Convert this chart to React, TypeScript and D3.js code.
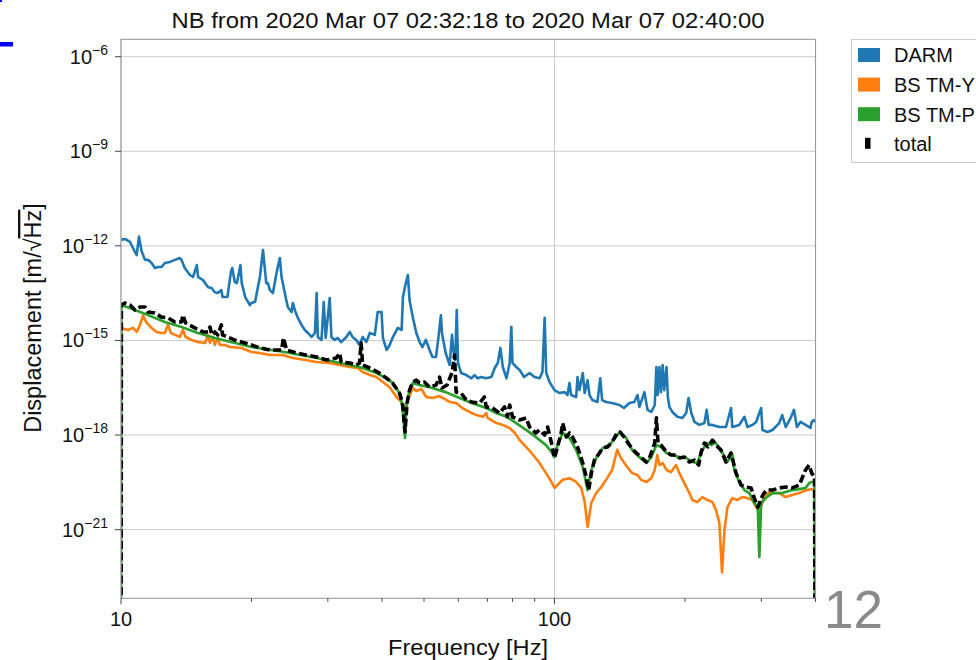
import React from 'react';
import * as d3 from 'd3';

type Pt = [number, number];

const titleText = 'NB from 2020 Mar 07 02:32:18 to 2020 Mar 07 02:40:00';
const xLabelText = 'Frequency [Hz]';
const seriesNames = ['DARM', 'BS TM-Y', 'BS TM-P', 'total'];
const seriesColors = ['#1f77b4', '#ff7f0e', '#2ca02c', '#000000'];
const xMajorTicks = [10, 100];
const xMinorTicks = [20, 30, 40, 50, 60, 70, 80, 90, 200, 300, 400];
const yMajorTicks = [1e-6, 1e-9, 1e-12, 1e-15, 1e-18, 1e-21];
const xDomain: [number, number] = [10, 400];
const yDomain: [number, number] = [6.65e-24, 3.56e-6];

const darm: Pt[] = [[10.0,1.54e-12],[10.21,1.66e-12],[10.49,1.33e-12],[10.77,6.4e-13],[10.87,5.1e-13],[11.0,1.96e-12],[11.16,6.6e-13],[11.36,3.6e-13],[11.54,3.6e-13],[11.77,2.86e-13],[11.97,1.98e-13],[12.17,2.14e-13],[12.41,2.14e-13],[12.62,2.86e-13],[12.97,3.1e-13],[13.32,3.6e-13],[13.67,4.1e-13],[13.79,3.6e-13],[14.03,1.98e-13],[14.42,1.19e-13],[14.66,1.03e-13],[14.96,2.47e-13],[15.06,1.03e-13],[15.46,8.2e-14],[15.88,4.9e-14],[16.18,4.6e-14],[16.46,3.4e-14],[16.72,3.2e-14],[17.04,3.95e-14],[17.15,2.38e-14],[17.6,2.38e-14],[17.93,1.49e-13],[18.05,1.98e-13],[18.3,7.1e-14],[18.51,6.6e-14],[18.86,2.47e-13],[18.99,6.6e-14],[19.34,2.38e-14],[19.83,1.33e-14],[19.99,1.54e-14],[20.39,1.69e-14],[20.91,1.05e-13],[21.26,7.4e-13],[21.63,6.6e-14],[21.82,6.6e-14],[22.05,3.95e-14],[22.41,3.2e-14],[22.84,1.38e-13],[23.25,4.1e-13],[23.46,1.03e-13],[23.87,3.2e-14],[24.25,1.15e-14],[24.74,8.0e-15],[24.91,1.54e-14],[25.17,9.3e-15],[25.58,5.2e-15],[26.09,3.1e-15],[26.56,2.15e-15],[26.98,1.73e-15],[27.52,1.29e-15],[28.01,1.73e-15],[28.27,3.2e-14],[28.45,1.29e-15],[29.01,1.04e-15],[29.35,1.66e-14],[29.66,1.2e-15],[30.3,2.2e-14],[30.57,1.29e-15],[31.1,1.04e-15],[31.6,1.2e-15],[32.2,8.9e-16],[33.1,1.29e-15],[33.7,1.86e-15],[34.2,1.29e-15],[34.9,1.04e-15],[35.5,7.2e-16],[36.1,1.29e-15],[36.8,8.9e-16],[37.5,1.73e-15],[38.5,1.5e-15],[39.1,8.0e-15],[39.9,8.0e-15],[40.2,1.2e-15],[41.0,4.98e-16],[41.66,7.2e-16],[42.3,1.2e-15],[43.5,2.5e-15],[44.4,2.15e-15],[44.7,2.38e-14],[45.4,6.6e-14],[45.9,1.19e-13],[46.3,1.91e-14],[47.1,5.5e-15],[48.0,1.73e-15],[48.85,8.9e-16],[49.6,6.2e-16],[50.5,1.04e-15],[51.5,4.98e-16],[52.3,3.0e-16],[53.3,3.0e-16],[53.9,1.04e-15],[54.7,6.3e-15],[55.0,1.73e-15],[56.1,4.0e-16],[57.3,1.67e-16],[58.0,1.5e-15],[58.4,4.98e-16],[59.0,2.4e-16],[59.5,9.3e-15],[59.9,1.93e-16],[60.9,9.3e-17],[62.6,8.0e-17],[64.3,6.3e-17],[65.4,8.0e-17],[66.5,6.3e-17],[67.8,6.9e-17],[69.6,6.3e-17],[71.5,6.9e-17],[72.8,1.34e-16],[74.0,1.93e-16],[75.0,5.8e-16],[76.0,1.44e-16],[77.5,6.3e-17],[78.8,1.93e-16],[79.5,2.7e-15],[80.0,1.93e-16],[81.6,1.44e-16],[83.1,1.16e-16],[85.1,6.9e-17],[87.6,9.3e-17],[89.9,6.9e-17],[92.4,6.3e-17],[93.8,1.0e-16],[94.9,5.2e-15],[95.7,9.3e-17],[97.4,4.8e-17],[100,2.67e-17],[102.7,2.15e-17],[105.5,2.3e-17],[107.1,1.86e-17],[108.3,4.5e-17],[109.2,1.86e-17],[112.2,1.61e-17],[113.0,6.9e-17],[114.2,2.67e-17],[116.2,9.3e-17],[117.4,2.15e-17],[119.2,5.5e-17],[120.4,1.86e-17],[122.3,1.29e-17],[125.6,1.12e-17],[127.5,6.3e-17],[128.8,1.29e-17],[131.5,1.12e-17],[135.8,1.04e-17],[141.2,9.0e-18],[144.6,7.2e-18],[148.9,1.04e-17],[152.8,1.12e-17],[155.4,1.86e-17],[157.0,7.8e-18],[161.2,2.3e-17],[163.9,6.3e-18],[167.2,5.4e-18],[170.3,9.0e-18],[171.8,1.44e-16],[173.0,1.86e-17],[174.6,1.44e-16],[176.0,2.3e-17],[177.6,1.67e-16],[179.1,2.67e-17],[181.3,1.44e-16],[182.6,1.61e-17],[184.1,7.8e-18],[187.0,5.4e-18],[192.1,3.8e-18],[197.3,3.5e-18],[201.3,5.0e-18],[203.8,1.5e-17],[206.8,5.0e-18],[210.4,2.6e-18],[215.9,2.1e-18],[221.7,2.4e-18],[224.4,6.3e-18],[226.8,2.1e-18],[231.2,2.1e-18],[240,1.8e-18],[248.6,1.8e-18],[255.4,7.2e-18],[257.1,1.8e-18],[266.9,2.1e-18],[274.3,3.8e-18],[278.7,1.8e-18],[286.2,2.1e-18],[291.8,2.6e-18],[299.7,7.2e-18],[301.8,1.45e-18],[310.0,1.25e-18],[318.3,1.45e-18],[329.9,2.4e-18],[335.1,4.3e-18],[341.6,1.8e-18],[350.6,3.5e-18],[356.8,6.3e-18],[362.4,1.8e-18],[369.4,2.6e-18],[379.3,2.1e-18],[389.4,1.68e-18],[392.0,2.6e-18],[396.5,3.0e-18],[400,2.6e-18]];

const bsTmY: Pt[] = [[10.0,2.5e-15],[10.38,2.15e-15],[10.66,2.5e-15],[10.87,1.86e-15],[11.06,3.1e-15],[11.24,6.1e-15],[11.46,3.6e-15],[11.77,2.5e-15],[12.08,1.86e-15],[12.41,1.73e-15],[12.62,1.73e-15],[12.83,3.1e-15],[13.04,1.73e-15],[13.32,1.5e-15],[13.67,1.29e-15],[13.89,2.15e-15],[14.09,1.29e-15],[14.55,1.04e-15],[15.05,8.9e-16],[15.62,8.3e-16],[15.88,1.5e-15],[16.04,8.3e-16],[16.3,1.29e-15],[16.46,7.2e-16],[16.72,1.2e-15],[16.91,7.2e-16],[17.36,7.2e-16],[17.83,6.2e-16],[18.97,5.8e-16],[20.0,4.3e-16],[20.91,4.0e-16],[22.05,3.46e-16],[23.6,3.46e-16],[24.9,2.78e-16],[26.7,2.4e-16],[28.2,2.08e-16],[30.3,1.93e-16],[31.96,1.67e-16],[33.7,1.44e-16],[35.2,1.34e-16],[36.1,1.0e-16],[37.5,8.0e-17],[38.8,6.9e-17],[40.2,4.8e-17],[41.66,3.3e-17],[43.2,1.61e-17],[44.4,1.12e-17],[45.2,6.2e-18],[45.9,1.29e-17],[47.1,3.1e-17],[48.0,2.5e-17],[49.3,2.9e-17],[50.6,1.61e-17],[52.3,1.5e-17],[54.3,1.73e-17],[57.3,1.12e-17],[59.3,1.04e-17],[61.3,7.2e-18],[63.7,5.4e-18],[66.0,4.3e-18],[68.4,3.8e-18],[69.6,5.0e-18],[70.1,3.5e-18],[73.4,2.4e-18],[76.0,2.1e-18],[78.8,1.68e-18],[81.0,1.16e-18],[83.1,6.9e-19],[86.0,4.2e-19],[89.3,2.33e-19],[92.35,1.3e-19],[95.6,6.2e-20],[98.4,3.25e-20],[100,2.1e-20],[101.6,2.6e-20],[104.4,3.8e-20],[108.3,4.3e-20],[112.2,3.25e-20],[115.3,2.1e-20],[117.4,7.5e-21],[119.2,1.22e-21],[121.6,7.0e-21],[124.8,1.45e-20],[128.2,2.25e-20],[131.5,3.8e-20],[135.8,7.8e-20],[139.5,3.4e-19],[142.1,1.93e-19],[147.1,9.7e-20],[151.1,6.2e-20],[155.4,5.4e-20],[158.4,3.8e-20],[162.9,3.25e-20],[167.2,4.3e-20],[170.3,7.8e-20],[172.6,2.33e-19],[174.6,1.12e-19],[177.6,1.3e-19],[181.3,7.8e-20],[185.7,6.7e-20],[190.7,1.12e-19],[194.1,6.2e-20],[199.3,3.0e-20],[204.7,1.45e-20],[208.0,8.7e-21],[213.5,7.5e-21],[219.3,1.08e-20],[225.2,8.7e-21],[231.2,7.5e-21],[235.8,4.2e-21],[240,1.68e-21],[243.5,4.4e-23],[246.6,9.4e-22],[250.6,5.2e-21],[257.1,1.0e-20],[264.1,8.7e-21],[270.9,1.08e-20],[278.7,1.0e-20],[286.2,8.7e-21],[291.8,5.2e-21],[296.8,3.6e-21],[305.2,1.25e-20],[312.9,1.45e-20],[329.9,1.45e-20],[341.6,1.08e-20],[353.4,1.25e-20],[366.9,1.45e-20],[381.8,1.8e-20],[394.9,1.94e-20],[400,1.94e-20]];

const bsTmP: Pt[] = [[10,1e-30],[10.02,1.33e-14],[10.77,9.3e-15],[11.54,6.4e-15],[12.62,3.85e-15],[13.79,2.67e-15],[15.05,1.73e-15],[16.46,1.2e-15],[17.93,8.9e-16],[20.0,6.2e-16],[23.6,4.4e-16],[28.3,2.78e-16],[33.7,1.67e-16],[36.1,1.34e-16],[38.8,9.3e-17],[41.0,6.3e-17],[42.3,4.5e-17],[43.9,2.15e-17],[44.6,7.8e-18],[45.2,8.1e-19],[45.5,7.8e-18],[46.3,2.67e-17],[47.1,4.5e-17],[48.85,3.85e-17],[51.5,3.3e-17],[56.1,2.3e-17],[60.4,1.5e-17],[64.4,1.04e-17],[69.6,7.2e-18],[73.4,5.0e-18],[77.5,3.8e-18],[81.6,2.4e-18],[86.0,1.45e-18],[90.5,8.7e-19],[95.6,4.8e-19],[98.4,2.9e-19],[100,2.0e-19],[101.6,4.8e-19],[104.4,1.16e-18],[106.5,1.0e-18],[108.3,8.1e-19],[112.2,3.35e-19],[116.2,9.7e-20],[119.2,1.8e-20],[121.6,7.8e-20],[124.8,1.87e-19],[129.1,3.85e-19],[133.9,4.8e-19],[138.6,8.7e-19],[141.2,1.25e-18],[146.4,8.1e-19],[151.1,3.35e-19],[157.0,2.0e-19],[162.9,1.3e-19],[167.2,2.0e-19],[171.8,4.8e-19],[176.1,4.2e-19],[181.3,2.7e-19],[187.0,2.33e-19],[194.1,2.0e-19],[201.3,1.87e-19],[208.0,1.4e-19],[213.5,1.3e-19],[217.9,2.7e-19],[224.1,5.6e-19],[230.3,4.8e-19],[234.5,6.0e-19],[238.9,4.2e-19],[245.6,2.33e-19],[250.3,1.4e-19],[257.4,2.33e-19],[260,7.8e-20],[266.9,3.25e-20],[274.3,1.8e-20],[281.4,1.45e-20],[289.0,7.0e-21],[294.4,5.2e-21],[296.8,1.36e-22],[299.7,7.0e-21],[308.6,1.08e-20],[318.3,1.45e-20],[335.1,1.45e-20],[353.4,1.8e-20],[366.9,1.94e-20],[379.3,2.1e-20],[386.9,3.0e-20],[392.0,3.25e-20],[398,3.25e-20],[400,1e-30]];

const total: Pt[] = [[10,1e-30],[10.02,1.33e-14],[10.21,1.54e-14],[10.49,1.33e-14],[10.77,9.3e-15],[11.06,1.15e-14],[11.36,1.15e-14],[11.54,8.0e-15],[11.97,7.4e-15],[12.41,5.5e-15],[12.83,5.2e-15],[13.32,3.85e-15],[13.79,3.85e-15],[13.89,6.4e-15],[14.09,3.6e-15],[14.8,2.5e-15],[15.46,1.86e-15],[15.88,1.86e-15],[16.04,2.67e-15],[16.2,1.5e-15],[16.46,1.86e-15],[16.72,1.5e-15],[17.04,3.1e-15],[17.15,1.5e-15],[17.6,1.29e-15],[18.25,1.04e-15],[19.3,8.3e-16],[20.0,7.2e-16],[20.91,5.8e-16],[22.05,4.98e-16],[23.46,4.98e-16],[23.7,1.2e-15],[24.1,4.98e-16],[25.4,4.0e-16],[26.7,3.46e-16],[28.27,3.0e-16],[29.8,2.4e-16],[31.4,2.78e-16],[31.96,4.0e-16],[32.2,2.08e-16],[33.7,1.93e-16],[34.9,1.67e-16],[35.5,1.93e-16],[35.8,8.3e-16],[36.1,1.67e-16],[37.5,1.34e-16],[39.1,1.0e-16],[41.0,6.3e-17],[42.3,4.5e-17],[43.9,2.15e-17],[44.6,1.04e-17],[45.2,1.25e-18],[45.7,1.04e-17],[46.3,2.67e-17],[47.1,4.8e-17],[48.0,5.5e-17],[48.85,4.5e-17],[50.1,4.8e-17],[51.5,3.3e-17],[53.3,3.85e-17],[54.3,6.9e-17],[55.0,3.1e-17],[56.5,3.85e-17],[58.1,1.0e-16],[58.8,3.46e-16],[59.3,2.3e-17],[60.9,2.15e-17],[62.6,1.29e-17],[64.4,1.12e-17],[67.2,1.04e-17],[68.9,1.61e-17],[69.6,7.8e-18],[71.9,7.2e-18],[74.7,5.0e-18],[76.7,7.8e-18],[77.9,3.8e-18],[78.8,9.0e-18],[80.0,3.8e-18],[83.1,3.0e-18],[86.0,3.5e-18],[87.6,1.8e-18],[90.5,1.16e-18],[92.35,1.45e-18],[94.9,1.0e-18],[96.4,1.8e-18],[98.4,5.6e-19],[100,1.87e-19],[101.6,4.2e-19],[103.6,1.16e-18],[104.4,2.4e-18],[106.5,8.7e-19],[108.3,1.16e-18],[110.0,8.7e-19],[113.0,4.2e-19],[116.2,1.3e-19],[118.4,4.66e-20],[119.9,1.8e-20],[121.6,6.2e-20],[123.6,1.61e-19],[127.0,2.7e-19],[129.1,3.85e-19],[132.5,4.2e-19],[135.8,6.0e-19],[139.5,1.16e-18],[141.7,1.25e-18],[144.6,8.7e-19],[148.9,4.8e-19],[154.3,2.7e-19],[158.4,2.0e-19],[162.9,1.4e-19],[165.6,1.87e-19],[170.3,5.6e-19],[171.8,3.5e-18],[173.3,5.6e-19],[176.1,4.8e-19],[181.3,2.9e-19],[185.7,2.33e-19],[190.7,2.33e-19],[194.1,1.87e-19],[199.3,2.0e-19],[204.7,1.4e-19],[210.4,1.61e-19],[215.1,1.12e-19],[217.9,2.9e-19],[221.7,5.6e-19],[225.7,4.2e-19],[231.5,6.9e-19],[235.8,4.8e-19],[242.1,3.35e-19],[248.6,1.4e-19],[255.4,2.7e-19],[262.3,6.2e-20],[269.3,2.6e-20],[276.4,2.25e-20],[284.1,2.1e-20],[289.0,1.0e-20],[294.4,5.2e-21],[302.3,1.25e-20],[308.1,1.8e-20],[318.3,1.8e-20],[329.9,2.1e-20],[341.6,2.25e-20],[353.4,2.1e-20],[366.9,2.6e-20],[379.3,7.8e-20],[386.9,1.12e-19],[392.0,6.2e-20],[398,4.66e-20],[400,1e-30]];

const W = 976;
const H = 660;
const PL = 121;
const PR = 815.5;
const PT = 39.3;
const PB = 598.3;
const FONT = '"Liberation Sans", Arial, Helvetica, sans-serif';

export default function App() {
  const x = d3.scaleLog().domain(xDomain).range([PL, PR]);
  const y = d3.scaleLog().domain(yDomain).range([PB, PT]);
  const line = d3
    .line<Pt>()
    .x((d) => x(d[0]))
    .y((d) => Math.min(y(d[1]), 2000));

  const series: Pt[][] = [darm, bsTmY, bsTmP, total];
  const widths = [2.6, 2.6, 2.7, 3.6];

  const expLabel = (v: number) => String(Math.round(Math.log10(v))).replace('-', '\u2212');

  return (
    <svg
      width={W}
      height={H}
      viewBox={`0 0 ${W} ${H}`}
      style={{ position: 'absolute', left: 0, top: 0, background: '#fff' }}
      fontFamily={FONT}
    >
      <rect x={0} y={0} width={W} height={H} fill="#ffffff" />
      <rect x={0} y={0} width={2} height={2} fill="#0000ff" />
      <rect x={0} y={42} width={13} height={4.5} fill="#0000ff" />

      <defs>
        <clipPath id="plotclip">
          <rect x={PL} y={PT} width={PR - PL} height={PB - PT} />
        </clipPath>
      </defs>

      {/* grid */}
      {xMajorTicks.map((t) => (
        <line key={'gx' + t} x1={x(t)} x2={x(t)} y1={PT} y2={PB} stroke="#cccccc" strokeWidth={1} />
      ))}
      {yMajorTicks.map((t) => (
        <line key={'gy' + t} x1={PL} x2={PR} y1={y(t)} y2={y(t)} stroke="#cccccc" strokeWidth={1} />
      ))}

      {/* series */}
      <g clipPath="url(#plotclip)" fill="none" strokeLinejoin="round">
        {series.map((s, i) => (
          <path
            key={seriesNames[i]}
            d={line(s) || ''}
            stroke={seriesColors[i]}
            strokeWidth={widths[i]}
            strokeDasharray={i === 3 ? '8,3.5' : undefined}
          />
        ))}
      </g>

      {/* frame */}
      <rect x={PL} y={PT} width={PR - PL} height={PB - PT} fill="none" stroke="#9a9a9a" strokeWidth={1.1} />

      {/* x ticks */}
      {xMajorTicks.map((t) => (
        <g key={'xt' + t}>
          <line x1={x(t)} x2={x(t)} y1={PB} y2={PB + 6} stroke="#444" strokeWidth={1} />
          <text x={x(t)} y={625.5} fontSize={20} textAnchor="middle" fill="#111">
            {String(t)}
          </text>
        </g>
      ))}
      {xMinorTicks.map((t) => (
        <line key={'xm' + t} x1={x(t)} x2={x(t)} y1={PB} y2={PB + 3.5} stroke="#444" strokeWidth={1} />
      ))}

      {/* y ticks */}
      {yMajorTicks.map((t) => (
        <g key={'yt' + t}>
          <line x1={PL - 6} x2={PL} y1={y(t)} y2={y(t)} stroke="#444" strokeWidth={1} />
          <text x={108} y={y(t) + 7} fontSize={20} textAnchor="end" fill="#111">
            10
            <tspan fontSize={14} dy={-9}>
              {expLabel(t)}
            </tspan>
          </text>
        </g>
      ))}

      {/* title */}
      <text x={468} y={28.3} fontSize={22} textAnchor="middle" fill="#111" textLength={593} lengthAdjust="spacingAndGlyphs">
        {titleText}
      </text>

      {/* x label */}
      <text x={468} y={655} fontSize={22} textAnchor="middle" fill="#111" textLength={160} lengthAdjust="spacingAndGlyphs">
        {xLabelText}
      </text>

      {/* y label */}
      <text transform="translate(41,318) rotate(-90)" fontSize={23.5} textAnchor="middle" fill="#111">
        Displacement [m/
        <tspan>{'\u221A'}</tspan>
        <tspan style={{ textDecoration: 'overline' }}>Hz</tspan>]
      </text>

      {/* legend */}
      <rect x={851.5} y={39.5} width={140} height={123} fill="#fff" stroke="#cccccc" strokeWidth={1} />
      {seriesNames.map((n, i) => {
        const cy = 55 + i * 29.6;
        return (
          <g key={'lg' + n}>
            {i < 3 ? (
              <rect x={858} y={cy - 7} width={22} height={14} fill={seriesColors[i]} />
            ) : (
              <rect x={865} y={cy - 6} width={5.5} height={11} fill="#000" />
            )}
            <text x={894} y={cy + 7.3} fontSize={20} fill="#111">
              {n}
            </text>
          </g>
        );
      })}

      {/* slide page number */}
      <text x={824} y={628} fontSize={53} fill="#8a8a8a">
        12
      </text>
    </svg>
  );
}
